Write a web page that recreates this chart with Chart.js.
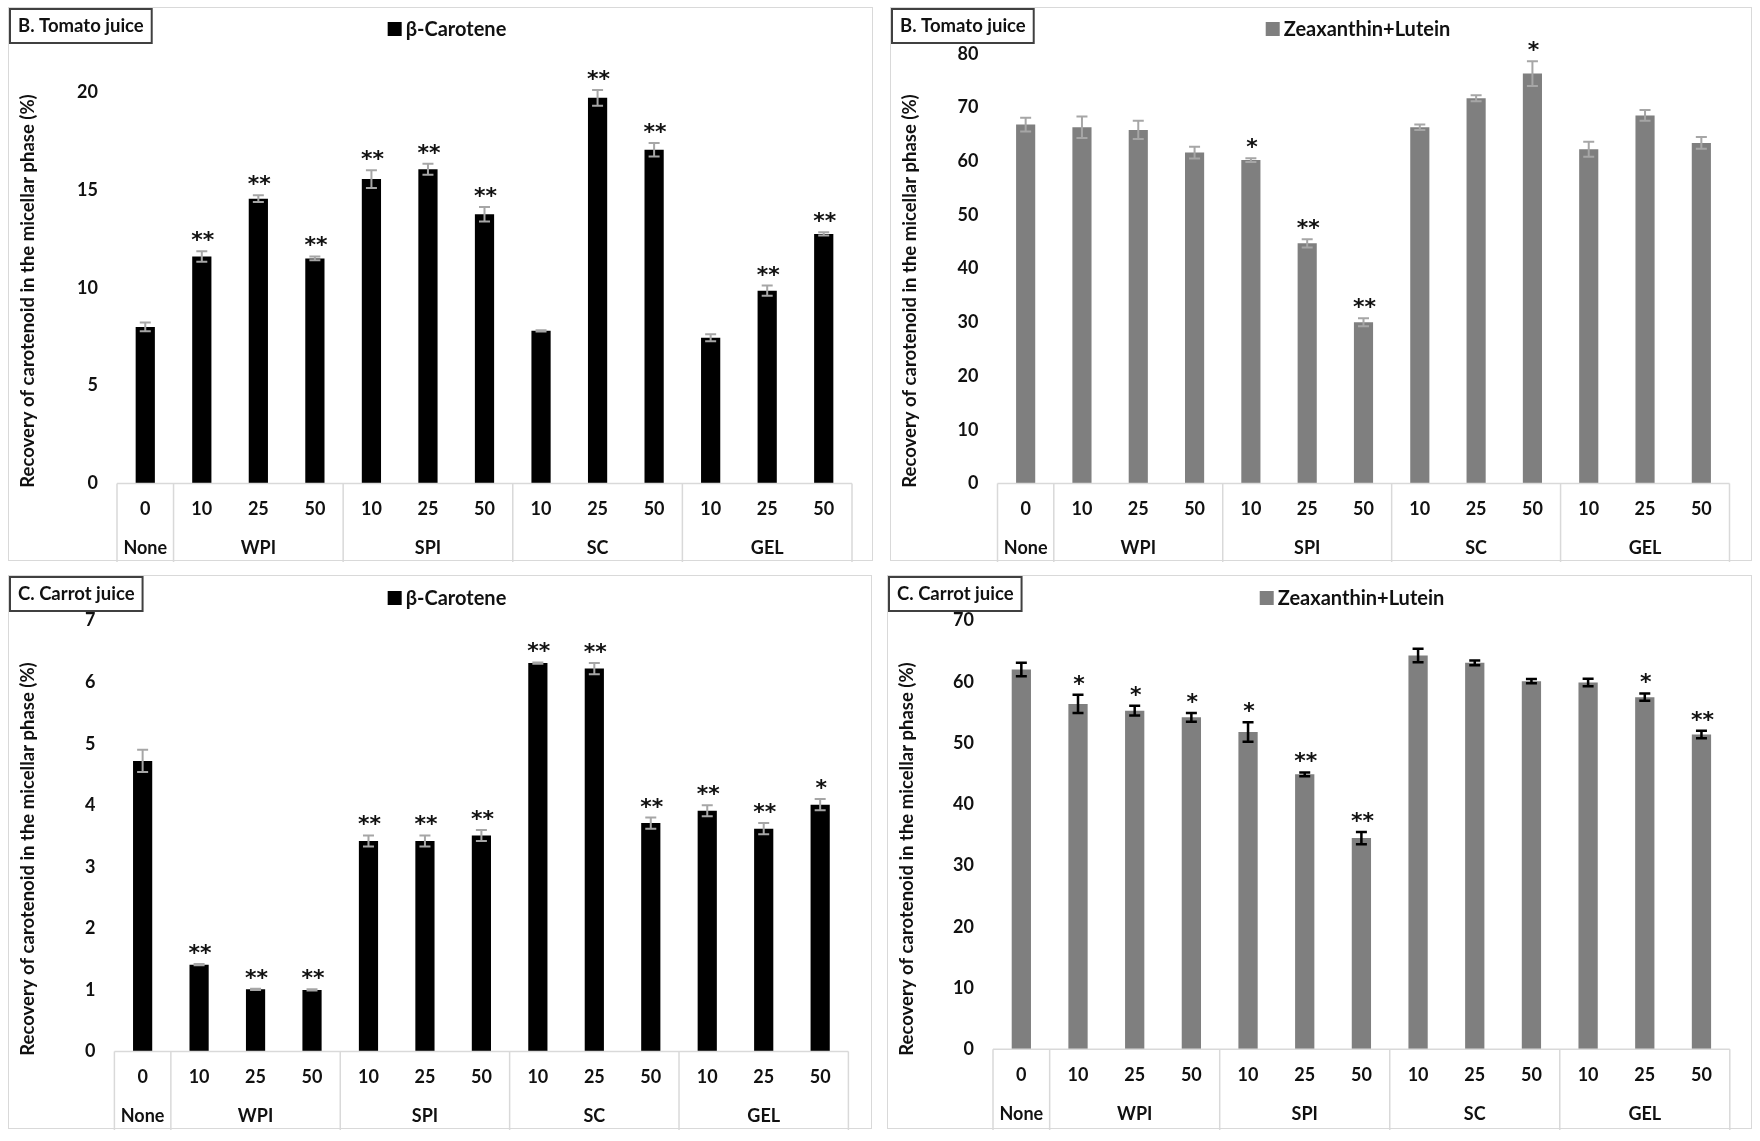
<!DOCTYPE html>
<html>
<head>
<meta charset="utf-8">
<script src="https://cdn.jsdelivr.net/npm/chart.js@4"></script>
<style>
html,body{margin:0;padding:0;background:#fff;}
body{width:1760px;height:1141px;position:relative;overflow:hidden;}
.panel{position:absolute;border:1.5px solid #d9d9d9;box-sizing:border-box;background:#fff;}
.panel canvas{position:absolute;left:0;top:0;}
</style>
</head>
<body>
<div class="panel" id="p1" style="left:8px;top:7px;width:865px;height:554px;"><canvas id="c1"></canvas></div>
<div class="panel" id="p2" style="left:890px;top:7px;width:862px;height:554px;"><canvas id="c2"></canvas></div>
<div class="panel" id="p3" style="left:8px;top:575px;width:864px;height:554px;"><canvas id="c3"></canvas></div>
<div class="panel" id="p4" style="left:887px;top:575px;width:865px;height:554px;"><canvas id="c4"></canvas></div>
<script>
//categories
var doses=["0","10","25","50","10","25","50","10","25","50","10","25","50"];
var groupNames=["None","WPI","SPI","SC","GEL"];
var groupSizes=[1,3,3,3,3];

//B. tomato juice, beta-carotene
var tomatoBeta=[8.0,11.6,14.55,11.5,15.55,16.05,13.75,7.8,19.7,17.05,7.45,9.85,12.75];
var tomatoBetaErr=[0.22,0.27,0.17,0.1,0.45,0.28,0.37,0.03,0.4,0.35,0.18,0.26,0.08];
var tomatoBetaSig=["","**","**","**","**","**","**","","**","**","","**","**"];
var tomatoBetaTicks=[0,5,10,15,20];

//B. tomato juice, zeaxanthin+lutein
var tomatoZea=[66.8,66.3,65.8,61.6,60.2,44.7,30.0,66.3,71.7,76.3,62.2,68.5,63.4];
var tomatoZeaErr=[1.3,2.0,1.7,1.1,0.35,0.75,0.75,0.5,0.55,2.3,1.4,1.0,1.1];
var tomatoZeaSig=["","","","","*","**","**","","","*","","",""];
var tomatoZeaTicks=[0,10,20,30,40,50,60,70,80];

//C. carrot juice, beta-carotene
var carrotBeta=[4.72,1.41,1.01,1.0,3.42,3.42,3.51,6.31,6.22,3.71,3.91,3.62,4.01];
var carrotBetaErr=[0.18,0.01,0.01,0.01,0.09,0.09,0.09,0.01,0.09,0.09,0.09,0.09,0.09];
var carrotBetaSig=["","**","**","**","**","**","**","**","**","**","**","**","*"];
var carrotBetaTicks=[0,1,2,3,4,5,6,7];

//C. carrot juice, zeaxanthin+lutein
var carrotZea=[62.0,56.4,55.3,54.2,51.8,44.9,34.5,64.3,63.1,60.1,59.9,57.5,51.4];
var carrotZeaErr=[1.1,1.5,0.8,0.7,1.6,0.3,1.0,1.1,0.4,0.35,0.6,0.6,0.6];
var carrotZeaSig=["","*","*","*","*","**","**","","","","","*","**"];
var carrotZeaTicks=[0,10,20,30,40,50,60,70];

var FONT="Lato, 'Noto Sans', sans-serif";
var yTitle="Recovery of carotenoid in the micellar phase (%)";

//error bars, stars, axis brackets, legend, title box
var extrasPlugin={
	id:"extras",
	afterDatasetsDraw:function(chart,args,o){
		var ctx=chart.ctx;
		var y=chart.scales.y;
		var meta=chart.getDatasetMeta(0);
		var vals=chart.data.datasets[0].data;
		ctx.save();
		for(var i=0;i<meta.data.length;i++){
			var bx=meta.data[i].x;
			var top=y.getPixelForValue(vals[i]+o.err[i]);
			var bot=y.getPixelForValue(vals[i]-o.err[i]);
			ctx.strokeStyle=o.errColor;
			ctx.lineWidth=o.errWidth;
			ctx.beginPath();
			ctx.moveTo(bx,top);ctx.lineTo(bx,bot);
			ctx.moveTo(bx-5.5,top);ctx.lineTo(bx+5.5,top);
			ctx.moveTo(bx-5.5,bot);ctx.lineTo(bx+5.5,bot);
			ctx.stroke();
			//significance
			if(o.sig[i]){
				ctx.fillStyle="#111";
				ctx.font="bold 22px 'DejaVu Sans'";
				ctx.textAlign="center";
				ctx.textBaseline="alphabetic";
				ctx.fillText(o.sig[i],bx+1,top-4);
			}
		}
		ctx.restore();
	},
	afterDraw:function(chart,args,o){
		var ctx=chart.ctx;
		var x=chart.scales.x;
		var area=chart.chartArea;
		var step=x.getPixelForValue(1)-x.getPixelForValue(0);
		ctx.save();
		//bracket lines
		ctx.strokeStyle="#d9d9d9";
		ctx.lineWidth=1.5;
		ctx.beginPath();
		ctx.moveTo(area.left,area.bottom);ctx.lineTo(area.right,area.bottom);
		var idx=0;
		ctx.moveTo(area.left,area.bottom);ctx.lineTo(area.left,chart.height);
		for(var g=0;g<groupSizes.length;g++){
			var first=idx;
			idx+=groupSizes[g];
			var edge=x.getPixelForValue(idx-1)+step/2;
			ctx.moveTo(edge,area.bottom);ctx.lineTo(edge,chart.height);
			//group name
			var cx=(x.getPixelForValue(first)+x.getPixelForValue(idx-1))/2;
			ctx.fillStyle="#111";
			ctx.font="bold 18px "+FONT;
			ctx.textAlign="center";
			ctx.textBaseline="middle";
			ctx.fillText(groupNames[g],cx,area.bottom+65);
		}
		ctx.stroke();
		//y title
		ctx.save();
		ctx.translate(19,283);
		ctx.rotate(-Math.PI/2);
		ctx.font="bold 18.5px "+FONT;
		ctx.fillStyle="#111";
		ctx.textAlign="center";
		ctx.textBaseline="middle";
		ctx.fillText(yTitle,0,0);
		ctx.restore();
		//title box
		ctx.font="bold 18.5px "+FONT;
		var tw=ctx.measureText(o.title).width;
		ctx.fillStyle="#fff";
		ctx.fillRect(1,1,tw+16,34);
		ctx.strokeStyle="#404040";
		ctx.lineWidth=2;
		ctx.strokeRect(1,1,tw+16,34);
		ctx.fillStyle="#111";
		ctx.textAlign="left";
		ctx.textBaseline="middle";
		ctx.fillText(o.title,9,18);
		//legend
		ctx.font="bold 20px "+FONT;
		var lw=ctx.measureText(o.legend).width;
		var lx=o.legendX-(lw+18)/2;
		ctx.fillStyle=o.barColor;
		ctx.fillRect(lx,o.legendY-7,14,14);
		ctx.fillStyle="#111";
		ctx.fillText(o.legend,lx+18,o.legendY+1);
		ctx.restore();
	}
};

//build one panel
var makePanel=function(id,values,errs,sigs,ticks,cfg){
	var box=document.getElementById(cfg.panel);
	var w=box.offsetWidth,h=box.offsetHeight;
	var canvas=document.getElementById(id);
	canvas.width=w;canvas.height=h;
	canvas.style.width=w+"px";canvas.style.height=h+"px";
	var axisH=79;
	return new Chart(canvas.getContext("2d"),{
		type:"bar",
		data:{
			labels:doses,
			datasets:[{
				label:cfg.legend,
				data:values,
				backgroundColor:cfg.barColor,
				borderWidth:0,
				barPercentage:0.34,
				categoryPercentage:1
			}]
		},
		options:{
			responsive:false,
			animation:false,
			devicePixelRatio:1,
			layout:{padding:{left:0,top:cfg.top,right:w-cfg.right,bottom:h-cfg.bottom-axisH}},
			plugins:{
				legend:{display:false},
				tooltip:{enabled:false},
				extras:{
					err:errs,sig:sigs,errColor:cfg.errColor,errWidth:cfg.errWidth,
					title:cfg.title,legend:cfg.legend,barColor:cfg.barColor,
					legendX:cfg.legendX,legendY:cfg.legendY
				}
			},
			scales:{
				x:{
					grid:{display:false,drawTicks:false},
					border:{display:false},
					ticks:{color:"#111",font:{family:FONT,size:18,weight:"bold"},padding:15,autoSkip:false,maxRotation:0},
					afterFit:function(s){s.height=axisH;}
				},
				y:{
					min:ticks[0],
					max:ticks[ticks.length-1],
					grid:{display:false,drawTicks:false},
					border:{display:false},
					ticks:{stepSize:ticks[1]-ticks[0],color:"#111",font:{family:FONT,size:18,weight:"bold"},padding:19},
					afterFit:function(s){s.width=cfg.left;}
				}
			}
		},
		plugins:[extrasPlugin]
	});
};

makePanel("c1",tomatoBeta,tomatoBetaErr,tomatoBetaSig,tomatoBetaTicks,{
	panel:"p1",title:"B. Tomato juice",legend:"β-Carotene",barColor:"#000000",
	errColor:"#a6a6a6",errWidth:2,left:108,right:843,top:84,bottom:475.5,legendX:438,legendY:21
});
makePanel("c2",tomatoZea,tomatoZeaErr,tomatoZeaSig,tomatoZeaTicks,{
	panel:"p2",title:"B. Tomato juice",legend:"Zeaxanthin+Lutein",barColor:"#7f7f7f",
	errColor:"#a6a6a6",errWidth:2,left:106.5,right:838.5,top:45.7,bottom:475.5,legendX:467,legendY:21
});
makePanel("c3",carrotBeta,carrotBetaErr,carrotBetaSig,carrotBetaTicks,{
	panel:"p3",title:"C. Carrot juice",legend:"β-Carotene",barColor:"#000000",
	errColor:"#a6a6a6",errWidth:2,left:105.4,right:839.4,top:44.6,bottom:475.5,legendX:438,legendY:22
});
makePanel("c4",carrotZea,carrotZeaErr,carrotZeaSig,carrotZeaTicks,{
	panel:"p4",title:"C. Carrot juice",legend:"Zeaxanthin+Lutein",barColor:"#7f7f7f",
	errColor:"#000000",errWidth:2.5,left:105,right:841.8,top:44.6,bottom:473.3,legendX:464,legendY:22
});
</script>
</body>
</html>
